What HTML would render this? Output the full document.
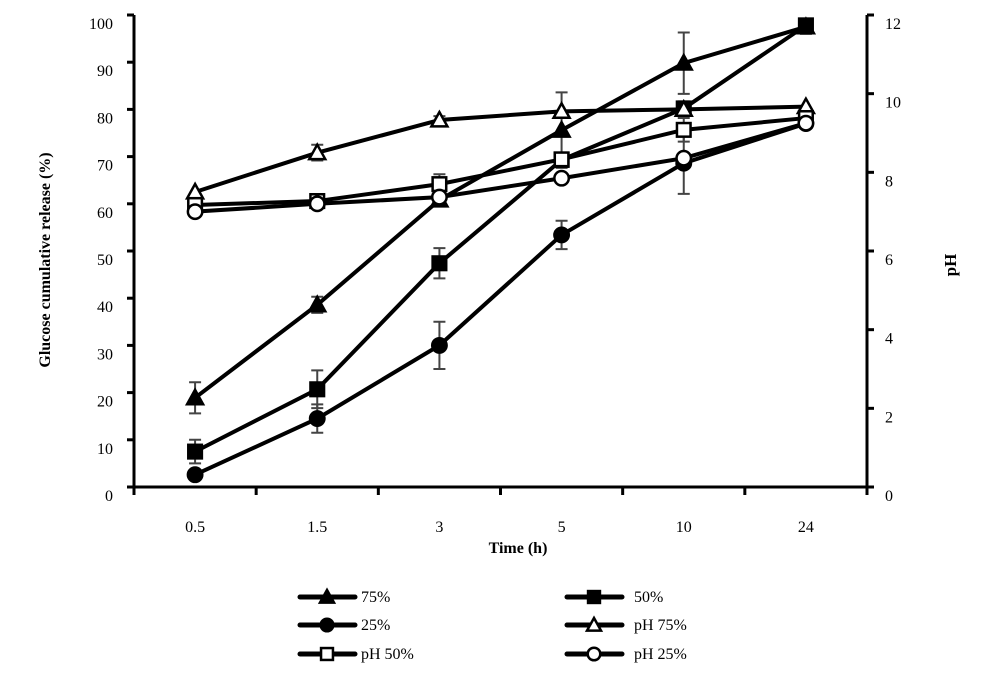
<!DOCTYPE html>
<html><head><meta charset="utf-8"><style>
body{margin:0;background:#fff}
svg{display:block;font-family:"Liberation Serif",serif}
</style></head><body>
<svg id="c" width="1000" height="676" viewBox="0 0 1000 676"></svg>
<script>
const categories=["0.5","1.5","3","5","10","24"];
const leftTicks=[0,10,20,30,40,50,60,70,80,90,100];
const rightTicks=[0,2,4,6,8,10,12];
const rel75=[18.9,38.6,60.8,75.6,89.8,97.5];
const rel75Err=[3.3,1.7,0,8,6.5,1.5];
const rel50=[7.5,20.7,47.4,69.3,80.2,97.8];
const rel50Err=[2.5,4,3.2,0,1.5,1];
const rel25=[2.6,14.5,30,53.4,68.6,77];
const rel25Err=[0,3,5,3,6.5,1];
const ph75=[7.5,8.5,9.33,9.55,9.6,9.67];
const ph75Err=[0,0.2,0.1,0,0,0];
const ph50=[7.17,7.27,7.7,8.33,9.08,9.38];
const ph50Err=[0,0,0.25,0,0.3,0];
const ph25=[7.0,7.2,7.37,7.85,8.36,9.25];
const ph25Err=[0,0,0,0,0,0];

const NS="http://www.w3.org/2000/svg";
const svg=document.getElementById('c');
const X0=134,X1=867,Y0=487,Y1=15;
const xPos=i=>X0+(X1-X0)/categories.length*(i+0.5);
const yL=v=>Y0-(Y0-Y1)*v/100;
const yR=v=>Y0-(Y0-Y1)*v/12;
function mk(tag,attrs,parent){const e=document.createElementNS(NS,tag);for(const k in attrs)e.setAttribute(k,attrs[k]);(parent||svg).appendChild(e);return e;}

const axes=mk('g',{});


mk('line',{x1:X0,y1:Y1,x2:X0,y2:Y0,stroke:'#000','stroke-width':3},axes);
mk('line',{x1:X1,y1:Y1,x2:X1,y2:Y0,stroke:'#000','stroke-width':3},axes);
mk('line',{x1:X0-7,y1:Y0,x2:X1+7,y2:Y0,stroke:'#000','stroke-width':3},axes);
leftTicks.forEach(t=>{
  mk('line',{x1:X0-7,y1:yL(t),x2:X0,y2:yL(t),stroke:'#000','stroke-width':3},axes);
  const tx=mk('text',{x:113,y:yL(t)+14,'text-anchor':'end','font-size':16},axes);
  tx.textContent=t;
  
  
});
rightTicks.forEach(t=>{
  mk('line',{x1:X1,y1:yR(t),x2:X1+7,y2:yR(t),stroke:'#000','stroke-width':3},axes);
  const tx=mk('text',{x:885,y:yR(t)+14,'font-size':16},axes);
  tx.textContent=t;
  
  
});
for(let i=0;i<=categories.length;i++){
  const x=X0+(X1-X0)/categories.length*i;
  mk('line',{x1:x,y1:Y0,x2:x,y2:Y0+8,stroke:'#000','stroke-width':3},axes);
}
categories.forEach((c,i)=>{
  const tx=mk('text',{x:xPos(i),y:532,'text-anchor':'middle','font-size':16},axes);
  tx.textContent=c;
  
  
});
let t=mk('text',{x:518,y:553,'text-anchor':'middle','font-size':16,'font-weight':'bold'});
t.textContent='Time (h)';


t=mk('text',{x:0,y:0,'text-anchor':'middle','font-size':16,'font-weight':'bold',transform:'translate(50,260) rotate(-90)'});
t.textContent='Glucose cumulative release (%)';


t=mk('text',{x:0,y:0,'text-anchor':'middle','font-size':17,'font-weight':'bold',transform:'translate(956,265) rotate(-90)'});
t.textContent='pH';



function marker(g,type,x,y,s){
  const fill=(type.indexOf('open')>=0)?'#fff':'#000';
  if(type.startsWith('tri'))return mk('polygon',{points:`${x},${y-s} ${x-s},${y+s*0.8} ${x+s},${y+s*0.8}`,fill,stroke:'#000','stroke-width':2.5},g);
  if(type.startsWith('sq'))return mk('rect',{x:x-s*0.85,y:y-s*0.85,width:s*1.7,height:s*1.7,fill,stroke:'#000','stroke-width':2.5},g);
  return mk('circle',{cx:x,cy:y,r:s*0.9,fill,stroke:'#000','stroke-width':2.5},g);
}
const series=[
  {name:'75%',vals:rel75,err:rel75Err,y:yL,m:'tri'},
  {name:'50%',vals:rel50,err:rel50Err,y:yL,m:'sq'},
  {name:'25%',vals:rel25,err:rel25Err,y:yL,m:'circ'},
  {name:'pH 75%',vals:ph75,err:ph75Err,y:yR,m:'tri-open'},
  {name:'pH 50%',vals:ph50,err:ph50Err,y:yR,m:'sq-open'},
  {name:'pH 25%',vals:ph25,err:ph25Err,y:yR,m:'circ-open'}
];
series.forEach(s=>{
  const g=mk('g',{});
  
  
  s.vals.forEach((v,i)=>{
    if(s.err[i]>0){
      const x=xPos(i),a=s.y(v+s.err[i]),b=s.y(v-s.err[i]);
      mk('path',{d:`M${x},${a}V${b}M${x-6},${a}H${x+6}M${x-6},${b}H${x+6}`,stroke:'#444','stroke-width':2,fill:'none'},g);
    }
  });
  mk('polyline',{points:s.vals.map((v,i)=>xPos(i)+','+s.y(v)).join(' '),fill:'none',stroke:'#000','stroke-width':4},g);
  s.vals.forEach((v,i)=>{
    const m=marker(g,s.m,xPos(i),s.y(v),8);
    
    
  });
});
const legendPos=[[300,597],[567,597],[300,625],[567,625],[300,654],[567,654]];
const leg=mk('g',{});


const order=[series[0],series[1],series[2],series[3],series[4],series[5]];
order.forEach((s,k)=>{
  const [lx,ly]=legendPos[k];
  const e=mk('g',{},leg);
  
  
  mk('line',{x1:lx,y1:ly,x2:lx+55,y2:ly,stroke:'#000','stroke-width':5,'stroke-linecap':'round'},e);
  marker(e,s.m,lx+27,ly,7);
  const tx=mk('text',{x:lx+(k%2?67:61),y:ly+5,'font-size':16},e);
  tx.textContent=s.name;
});
</script>
</body></html>
